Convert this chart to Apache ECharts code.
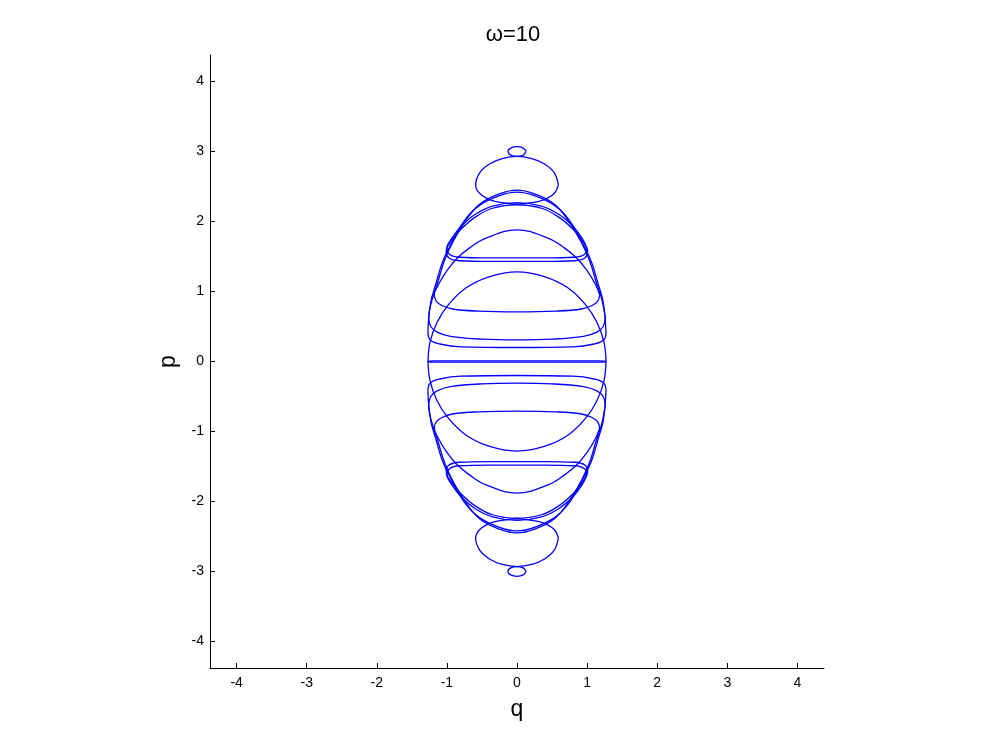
<!DOCTYPE html>
<html>
<head>
<meta charset="utf-8">
<script src="https://cdn.jsdelivr.net/npm/echarts@6/dist/echarts.min.js"></script>
<style>
  html, body { margin: 0; padding: 0; background: #fff; }
  #chart { width: 999px; height: 750px; }
</style>
</head>
<body>
<div id="chart"></div>
<script>
// tick labels on both axes
const qTicks = [-4, -3, -2, -1, 0, 1, 2, 3, 4]
const pTicks = [-4, -3, -2, -1, 0, 1, 2, 3, 4]

// closed orbits, [q, p]
// upper half
const ellipseTop = [[0.13,3.0],[0.09,3.05],[0,3.07],[-0.09,3.05],[-0.13,3.0],[-0.09,2.95],[0,2.93],[0.09,2.95],[0.13,3.0]]
const domeTop = [[0.59,2.52],[0.53,2.70],[0.38,2.83],[0.21,2.90],[0,2.93],[-0.21,2.90],[-0.38,2.83],[-0.53,2.70],[-0.59,2.52],
  [-0.53,2.40],[-0.38,2.31],[-0.21,2.27],[0,2.25],[0.21,2.27],[0.38,2.31],[0.53,2.40],[0.59,2.52]]
const outerTopA = [[1.26,0.62],[1.21,0.89],[1.14,1.1],[1.04,1.43],[0.93,1.68],[0.74,2.0],[0.53,2.25],[0.24,2.4],[0,2.45],
  [-0.24,2.4],[-0.53,2.25],[-0.74,2.0],[-0.93,1.68],[-1.04,1.43],[-1.14,1.1],[-1.21,0.89],[-1.26,0.62],
  [-1.23,0.5],[-1.14,0.42],[-0.95,0.36],[-0.5,0.32],[0,0.31],[0.5,0.32],[0.95,0.36],[1.14,0.42],[1.23,0.5],[1.26,0.62]]
const outerTopB = [[1.27,0.42],[1.23,0.85],[1.16,1.1],[1.06,1.43],[0.95,1.66],[0.76,2.0],[0.55,2.22],[0.25,2.37],[0,2.42],
  [-0.25,2.37],[-0.55,2.22],[-0.76,2.0],[-0.95,1.66],[-1.06,1.43],[-1.16,1.1],[-1.23,0.85],[-1.27,0.42],
  [-1.24,0.31],[-1.1,0.25],[-0.8,0.21],[0,0.2],[0.8,0.21],[1.1,0.25],[1.24,0.31],[1.27,0.42]]
const capTopA = [[1.0,1.62],[0.93,1.76],[0.8,1.93],[0.6,2.1],[0.35,2.22],[0,2.27],[-0.35,2.22],[-0.6,2.1],[-0.8,1.93],[-0.93,1.76],[-1.0,1.62],
  [-0.96,1.53],[-0.82,1.49],[-0.4,1.48],[0,1.48],[0.4,1.48],[0.82,1.49],[0.96,1.53],[1.0,1.62]]
const capTopB = [[1.01,1.58],[0.94,1.72],[0.8,1.89],[0.6,2.06],[0.35,2.19],[0,2.24],[-0.35,2.19],[-0.6,2.06],[-0.8,1.89],[-0.94,1.72],[-1.01,1.58],
  [-0.97,1.48],[-0.82,1.44],[-0.4,1.43],[0,1.43],[0.4,1.43],[0.82,1.44],[0.97,1.48],[1.01,1.58]]
const midTop = [[1.18,0.95],[1.12,1.1],[1.0,1.3],[0.85,1.48],[0.68,1.62],[0.45,1.76],[0,1.88],[-0.45,1.76],[-0.68,1.62],[-0.85,1.48],[-1.0,1.3],[-1.12,1.1],[-1.18,0.95],
  [-1.15,0.86],[-1.07,0.8],[-0.92,0.75],[-0.55,0.72],[0,0.71],[0.55,0.72],[0.92,0.75],[1.07,0.8],[1.15,0.86],[1.18,0.95]]
const coreTop = [[1.27,0.0],[1.24,0.28],[1.14,0.56],[0.98,0.81],[0.73,1.05],[0.4,1.21],[0,1.28],[-0.4,1.21],[-0.73,1.05],[-0.98,0.81],[-1.14,0.56],[-1.24,0.28],[-1.27,0.0],
  [-1.2,0.008],[0,0.008],[1.2,0.008],[1.27,0.0]]

// lower half
const ellipseBot = [[0.13,-3.0],[0.09,-3.05],[0,-3.07],[-0.09,-3.05],[-0.13,-3.0],[-0.09,-2.95],[0,-2.93],[0.09,-2.95],[0.13,-3.0]]
const domeBot = [[0.59,-2.52],[0.53,-2.70],[0.38,-2.83],[0.21,-2.90],[0,-2.93],[-0.21,-2.90],[-0.38,-2.83],[-0.53,-2.70],[-0.59,-2.52],
  [-0.53,-2.40],[-0.38,-2.31],[-0.21,-2.27],[0,-2.25],[0.21,-2.27],[0.38,-2.31],[0.53,-2.40],[0.59,-2.52]]
const outerBotA = [[1.26,-0.62],[1.21,-0.89],[1.14,-1.1],[1.04,-1.43],[0.93,-1.68],[0.74,-2.0],[0.53,-2.25],[0.24,-2.4],[0,-2.45],
  [-0.24,-2.4],[-0.53,-2.25],[-0.74,-2.0],[-0.93,-1.68],[-1.04,-1.43],[-1.14,-1.1],[-1.21,-0.89],[-1.26,-0.62],
  [-1.23,-0.5],[-1.14,-0.42],[-0.95,-0.36],[-0.5,-0.32],[0,-0.31],[0.5,-0.32],[0.95,-0.36],[1.14,-0.42],[1.23,-0.5],[1.26,-0.62]]
const outerBotB = [[1.27,-0.42],[1.23,-0.85],[1.16,-1.1],[1.06,-1.43],[0.95,-1.66],[0.76,-2.0],[0.55,-2.22],[0.25,-2.37],[0,-2.42],
  [-0.25,-2.37],[-0.55,-2.22],[-0.76,-2.0],[-0.95,-1.66],[-1.06,-1.43],[-1.16,-1.1],[-1.23,-0.85],[-1.27,-0.42],
  [-1.24,-0.31],[-1.1,-0.25],[-0.8,-0.21],[0,-0.2],[0.8,-0.21],[1.1,-0.25],[1.24,-0.31],[1.27,-0.42]]
const capBotA = [[1.0,-1.62],[0.93,-1.76],[0.8,-1.93],[0.6,-2.1],[0.35,-2.22],[0,-2.27],[-0.35,-2.22],[-0.6,-2.1],[-0.8,-1.93],[-0.93,-1.76],[-1.0,-1.62],
  [-0.96,-1.53],[-0.82,-1.49],[-0.4,-1.48],[0,-1.48],[0.4,-1.48],[0.82,-1.49],[0.96,-1.53],[1.0,-1.62]]
const capBotB = [[1.01,-1.58],[0.94,-1.72],[0.8,-1.89],[0.6,-2.06],[0.35,-2.19],[0,-2.24],[-0.35,-2.19],[-0.6,-2.06],[-0.8,-1.89],[-0.94,-1.72],[-1.01,-1.58],
  [-0.97,-1.48],[-0.82,-1.44],[-0.4,-1.43],[0,-1.43],[0.4,-1.43],[0.82,-1.44],[0.97,-1.48],[1.01,-1.58]]
const midBot = [[1.18,-0.95],[1.12,-1.1],[1.0,-1.3],[0.85,-1.48],[0.68,-1.62],[0.45,-1.76],[0,-1.88],[-0.45,-1.76],[-0.68,-1.62],[-0.85,-1.48],[-1.0,-1.3],[-1.12,-1.1],[-1.18,-0.95],
  [-1.15,-0.86],[-1.07,-0.8],[-0.92,-0.75],[-0.55,-0.72],[0,-0.71],[0.55,-0.72],[0.92,-0.75],[1.07,-0.8],[1.15,-0.86],[1.18,-0.95]]
const coreBot = [[1.27,0.0],[1.24,-0.28],[1.14,-0.56],[0.98,-0.81],[0.73,-1.05],[0.4,-1.21],[0,-1.28],[-0.4,-1.21],[-0.73,-1.05],[-0.98,-0.81],[-1.14,-0.56],[-1.24,-0.28],[-1.27,0.0],
  [-1.2,-0.008],[0,-0.008],[1.2,-0.008],[1.27,0.0]]

const orbits = [
  ellipseTop, domeTop, outerTopA, outerTopB, capTopA, capTopB, midTop, coreTop,
  ellipseBot, domeBot, outerBotA, outerBotB, capBotA, capBotB, midBot, coreBot
]

const chart = echarts.init(document.getElementById('chart'))
const font = 'Liberation Sans, Arial, Helvetica, sans-serif'

const axisCommon = {
  type: 'value',
  min: -4.38,
  max: 4.38,
  nameLocation: 'middle',
  nameTextStyle: { color: '#000', fontSize: 23, fontFamily: font },
  axisLine: { show: true, onZero: false, lineStyle: { color: '#000', width: 1 } },
  axisTick: { show: true, inside: true, length: 5, lineStyle: { color: '#000' } },
  axisLabel: { color: '#000', fontSize: 14, fontFamily: font },
  splitLine: { show: false }
}

const option = {
  animation: false,
  backgroundColor: '#fff',
  title: {
    text: 'ω=10',
    left: 508,
    top: 19,
    textAlign: 'center',
    textStyle: { color: '#000', fontSize: 22, fontWeight: 'normal', fontFamily: font }
  },
  grid: { left: 210, right: 175, top: 55, bottom: 82 },
  xAxis: Object.assign({}, axisCommon, {
    name: 'q',
    nameGap: 30,
    axisTick: Object.assign({}, axisCommon.axisTick, { customValues: qTicks }),
    axisLabel: Object.assign({}, axisCommon.axisLabel, { customValues: qTicks, margin: 8 })
  }),
  yAxis: Object.assign({}, axisCommon, {
    name: 'p',
    nameGap: 30,
    nameRotate: 90,
    axisTick: Object.assign({}, axisCommon.axisTick, { customValues: pTicks }),
    axisLabel: Object.assign({}, axisCommon.axisLabel, { customValues: pTicks, margin: 6 })
  }),
  series: orbits.map(function (d) {
    return {
      type: 'line',
      data: d,
      symbol: 'none',
      smooth: 0.4,
      lineStyle: { color: '#0000ff', width: 1.3 },
      silent: true
    }
  })
}
chart.setOption(option)
</script>
</body>
</html>
